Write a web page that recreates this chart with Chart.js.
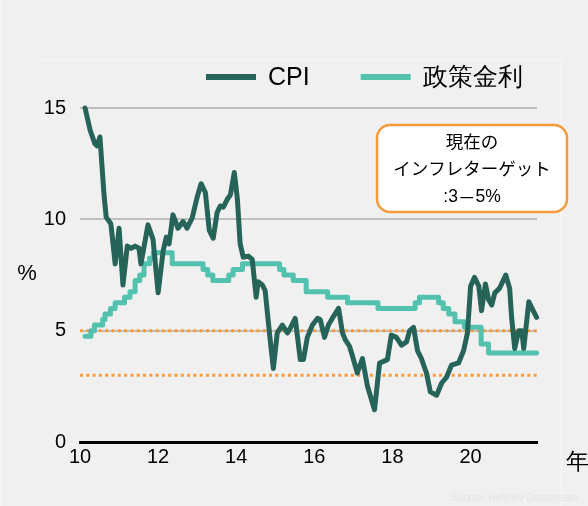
<!DOCTYPE html>
<html>
<head>
<meta charset="UTF-8">
<title>CPIと政策金利</title>
<script src="https://cdn.jsdelivr.net/npm/chart.js"></script>
<style>
  html, body { margin: 0; padding: 0; background: #f0f0f0; }
</style>
</head>
<body>
<canvas id="myChart" width="588" height="506"></canvas>
<script>
// values (x = year, 10 = 2010)
const cpiYears = [10.13, 10.26, 10.38, 10.44, 10.51, 10.62, 10.67, 10.79, 10.9, 11.0,
  11.1, 11.21, 11.31, 11.41, 11.51, 11.56, 11.74, 11.87, 12.0, 12.13,
  12.21, 12.28, 12.38, 12.51, 12.64, 12.74, 12.87, 13.0, 13.1, 13.21,
  13.31, 13.41, 13.51, 13.59, 13.67, 13.77, 13.85, 13.95, 14.03, 14.1,
  14.18, 14.31, 14.41, 14.51, 14.56, 14.67, 14.74, 14.85, 14.95, 15.05,
  15.18, 15.31, 15.38, 15.51, 15.64, 15.72, 15.82, 15.95, 16.08, 16.15,
  16.26, 16.36, 16.51, 16.62, 16.72, 16.79, 16.9, 16.97, 17.1, 17.23,
  17.36, 17.54, 17.67, 17.74, 17.87, 17.97, 18.1, 18.23, 18.36, 18.44,
  18.54, 18.64, 18.74, 18.87, 18.97, 19.13, 19.26, 19.38, 19.51, 19.69,
  19.82, 19.92, 20.0, 20.1, 20.21, 20.28, 20.38, 20.46, 20.54, 20.62,
  20.74, 20.9, 21.0, 21.05, 21.13, 21.23, 21.31, 21.36, 21.49, 21.56, 21.69];
const cpiValues = [15.0, 14.0, 13.4, 13.3, 13.7, 11.0, 10.1, 9.8, 8.0, 9.6,
  7.05, 8.8, 8.7, 8.8, 8.7, 8.0, 9.75, 9.1, 6.7, 8.6,
  9.2, 8.9, 10.2, 9.6, 9.9, 9.6, 10.05, 11.0, 11.6, 11.2,
  9.5, 9.15, 10.3, 10.6, 10.55, 10.9, 11.1, 12.1, 10.9, 8.9,
  8.3, 8.35, 8.2, 6.5, 7.2, 7.05, 6.8, 4.9, 3.3, 4.9,
  5.25, 4.9, 5.1, 5.55, 3.7, 3.7, 4.7, 5.25, 5.55, 5.5,
  4.7, 5.25, 5.7, 6.0, 4.9, 4.6, 4.3, 3.9, 3.1, 3.75,
  2.5, 1.45, 3.55, 3.6, 3.7, 4.8, 4.7, 4.35, 4.5, 5.0,
  5.15, 4.1, 3.75, 3.1, 2.25, 2.1, 2.65, 2.9, 3.45, 3.55,
  4.1, 4.9, 7.0, 7.4, 7.0, 5.9, 7.1, 6.4, 6.15, 6.7,
  6.9, 7.5, 6.9, 5.6, 4.2, 5.0, 5.0, 4.2, 6.3, 6.05, 5.6];

// policy rate: year of each change and the new rate
const rateYears = [10.13, 10.28, 10.37, 10.58, 10.64, 10.78, 10.9, 11.14, 11.28, 11.41,
  11.53, 11.64, 11.78, 11.88, 12.36, 13.15, 13.27, 13.4, 13.81, 13.92,
  14.16, 15.11, 15.22, 15.46, 15.79, 16.34, 16.85, 17.63, 18.58, 18.69,
  19.18, 19.3, 19.44, 19.6, 19.84, 20.27, 20.46, 21.69];
const rateValues = [4.75, 5.0, 5.25, 5.5, 5.75, 6.0, 6.25, 6.5, 6.75, 7.25,
  7.5, 8.0, 8.25, 8.5, 8.0, 7.75, 7.5, 7.25, 7.5, 7.75,
  8.0, 7.75, 7.5, 7.25, 6.75, 6.5, 6.25, 6.0, 6.25, 6.5,
  6.25, 6.0, 5.75, 5.4, 5.15, 4.4, 4.0, 4.0];

const targetLow = 3;
const targetHigh = 5;
const xMin = 10, xMax = 21.7;
const xTicks = [10, 12, 14, 16, 18, 20];
const yTicks = [0, 5, 10, 15];
const noteLines = ['現在の', 'インフレターゲット', ':3－5%'];

const toPoints = (xs, ys) => xs.map((x, i) => ({ x: x, y: ys[i] }));
const FONT = '"Liberation Sans", Arial, sans-serif';
const NOTE_FONT = '"Liberation Sans", "Noto Sans CJK JP", sans-serif';

const bgPlugin = {
  id: 'bg',
  beforeDraw(c) {
    const ctx = c.ctx;
    ctx.save();
    ctx.fillStyle = '#f0f0f0';
    ctx.fillRect(0, 0, c.width, c.height);
    ctx.strokeStyle = '#f6f6f6';
    ctx.lineWidth = 1.5;
    ctx.beginPath();
    ctx.moveTo(40, 59.5); ctx.lineTo(561.5, 59.5);
    ctx.moveTo(561.5, 59.5); ctx.lineTo(561.5, 506);
    ctx.moveTo(1.5, 0); ctx.lineTo(1.5, 506);
    ctx.stroke();
    ctx.restore();
  }
};

// draws text, using the CJK font for full-width characters
function mixedText(ctx, text, cx, y, size) {
  const parts = Array.from(text).map(ch => {
    const cjk = ch.charCodeAt(0) > 0x2e80;
    return { ch: ch, font: size + 'px ' + (cjk ? '"Noto Sans CJK JP"' : FONT) };
  });
  let total = 0;
  parts.forEach(p => { ctx.font = p.font; p.w = ctx.measureText(p.ch).width; total += p.w; });
  let x = cx - total / 2;
  ctx.textAlign = 'left';
  parts.forEach(p => { ctx.font = p.font; ctx.fillText(p.ch, x, y); x += p.w; });
}

const extrasPlugin = {
  id: 'extras',
  afterDraw(c) {
    const ctx = c.ctx;
    ctx.save();
    // legend
    ctx.font = '25px ' + FONT;
    ctx.textBaseline = 'middle';
    ctx.fillStyle = '#000';
    let x = 206;
    c.data.datasets.filter(d => d.inLegend).forEach(d => {
      ctx.strokeStyle = d.borderColor;
      ctx.lineWidth = 6;
      ctx.lineCap = 'butt';
      ctx.beginPath();
      ctx.moveTo(x, 77); ctx.lineTo(x + 50, 77);
      ctx.stroke();
      x += 62;
      ctx.fillText(d.label, x, 78);
      x += ctx.measureText(d.label).width + 51;
    });

    // axis titles
    ctx.font = '22px ' + FONT;
    ctx.textAlign = 'center';
    ctx.fillText('%', 27, 274);
    ctx.textAlign = 'left';
    ctx.font = '23px ' + FONT;
    ctx.fillText('年', 566, 463);

    // note box
    const bx = 377, by = 125, bw = 190, bh = 87, r = 13;
    ctx.beginPath();
    ctx.moveTo(bx + r, by);
    ctx.arcTo(bx + bw, by, bx + bw, by + bh, r);
    ctx.arcTo(bx + bw, by + bh, bx, by + bh, r);
    ctx.arcTo(bx, by + bh, bx, by, r);
    ctx.arcTo(bx, by, bx + bw, by, r);
    ctx.closePath();
    ctx.fillStyle = '#ffffff';
    ctx.fill();
    ctx.strokeStyle = '#f79b3d';
    ctx.lineWidth = 2.5;
    ctx.stroke();
    ctx.fillStyle = '#000';
    ctx.textAlign = 'center';
    ctx.font = '17.5px ' + NOTE_FONT;
    ctx.fillText(noteLines[0], bx + bw / 2, 143);
    ctx.fillText(noteLines[1], bx + bw / 2, 170);
    mixedText(ctx, noteLines[2], bx + bw / 2, 197, 17.5);

    // source
    ctx.font = '10px ' + FONT;
    ctx.fillStyle = '#e3e3e3';
    ctx.textAlign = 'left';
    ctx.fillText('Source: Refinitiv Datastream', 451, 498);
    ctx.restore();
  }
};

const ctx = document.getElementById('myChart').getContext('2d');
const chart = new Chart(ctx, {
  type: 'line',
  data: {
    datasets: [{
      label: 'CPI',
      inLegend: true,
      data: toPoints(cpiYears, cpiValues),
      borderColor: '#266358',
      borderWidth: 5,
      borderJoinStyle: 'round',
      borderCapStyle: 'round',
      pointRadius: 0,
      tension: 0,
      clip: false,
      order: 0
    }, {
      label: '政策金利',
      inLegend: true,
      data: toPoints(rateYears, rateValues),
      borderColor: '#52c1ae',
      borderWidth: 5,
      borderJoinStyle: 'round',
      borderCapStyle: 'round',
      stepped: true,
      pointRadius: 0,
      clip: false,
      order: 1
    }, {
      label: 'target high',
      data: [{ x: xMin, y: targetHigh }, { x: xMax, y: targetHigh }],
      borderColor: '#f89b3a',
      borderWidth: 3,
      borderDash: [3, 3.3],
      pointRadius: 0,
      order: 2
    }, {
      label: 'target low',
      data: [{ x: xMin, y: targetLow }, { x: xMax, y: targetLow }],
      borderColor: '#f89b3a',
      borderWidth: 3,
      borderDash: [3, 3.3],
      pointRadius: 0,
      order: 2
    }]
  },
  options: {
    responsive: false,
    animation: false,
    devicePixelRatio: 1,
    layout: { padding: { left: 0, right: 51, top: 108, bottom: 0 } },
    plugins: { legend: { display: false }, tooltip: { enabled: false } },
    scales: {
      x: {
        type: 'linear',
        min: xMin,
        max: xMax,
        afterBuildTicks: s => { s.ticks = xTicks.map(v => ({ value: v })); },
        afterFit: s => { s.height = 64; },
        grid: { display: false, drawTicks: false },
        border: { display: true, color: '#000', width: 3 },
        ticks: { padding: 3, color: '#000', font: { family: FONT, size: 20 } }
      },
      y: {
        min: 0,
        max: 15,
        afterBuildTicks: s => { s.ticks = yTicks.map(v => ({ value: v })); },
        afterFit: s => { s.width = 80; },
        grid: {
          drawTicks: false,
          lineWidth: 2,
          color: c => (c.tick && c.tick.value === 0) ? 'rgba(0,0,0,0)' : '#bfbfbf'
        },
        border: { display: false },
        ticks: { padding: 14, color: '#000', font: { family: FONT, size: 20 } }
      }
    }
  },
  plugins: [bgPlugin, extrasPlugin]
});
</script>
</body>
</html>
